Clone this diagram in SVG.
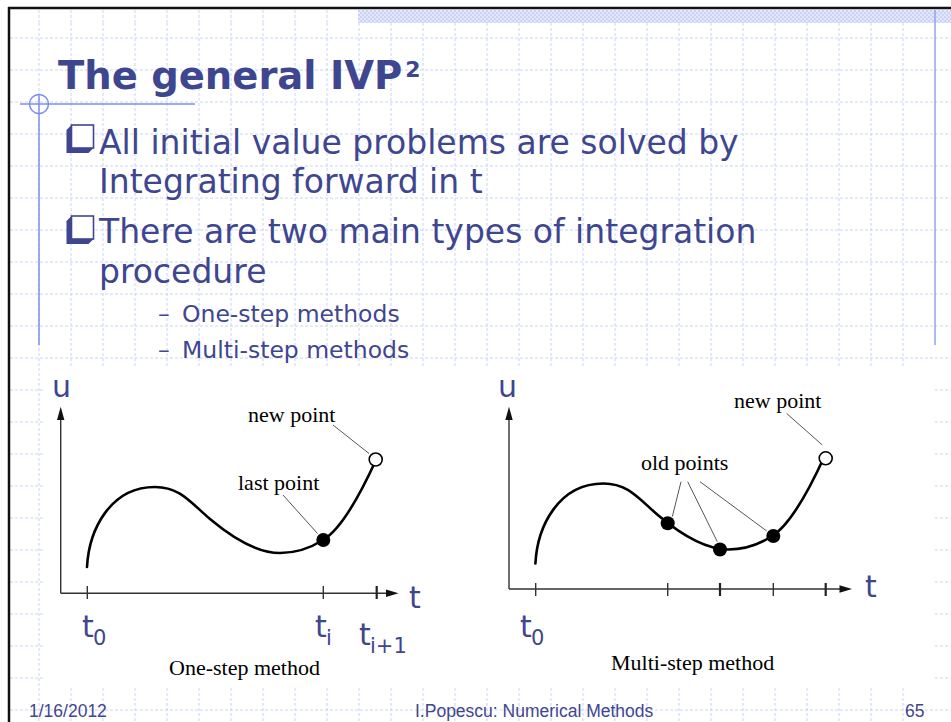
<svg xmlns="http://www.w3.org/2000/svg" width="951" height="722" viewBox="0 0 951 722">
  <defs>
    <style>
      .grid { stroke: #c9d2f7; stroke-width: 1; stroke-dasharray: 3 2; fill: none; }
      .deco { stroke: #7b8ff0; stroke-width: 1.5; fill: none; }
      .slide { font-family: "DejaVu Sans", Verdana, sans-serif; fill: #3f4690; }
      .title { font-size: 38.5px; font-weight: bold; }
      .body { font-size: 33px; }
      .sub { font-size: 23.5px; }
      .lbl { font-size: 30px; }
      .lsub { font-size: 21px; }
      .serif { font-family: "Liberation Serif", "Times New Roman", serif; font-size: 22px; fill: #000; }
      .axis { stroke: #333; stroke-width: 1.4; fill: none; }
      .tick { stroke: #333; stroke-width: 1.4; }
      .tickb { stroke: #222; stroke-width: 2.2; }
      .curve { stroke: #000; stroke-width: 2.6; fill: none; stroke-linecap: round; }
      .lead { stroke: #555; stroke-width: 1; fill: none; }
      .dot { fill: #000; }
      .open { fill: #fff; stroke: #000; stroke-width: 1.6; }
      .arrow { fill: #111; }
      .foot { font-family: "Liberation Sans", Arial, sans-serif; font-size: 17.5px; fill: #3f4690; }
      .bshadow { fill: #3f4690; }
      .bbox { fill: #fff; stroke: #3f4690; stroke-width: 1.6; }
    </style>
    <pattern id="hatch" width="4" height="4" patternUnits="userSpaceOnUse">
      <rect width="4" height="4" fill="#e3e8fc"/>
      <rect width="2" height="2" fill="#cad3f7"/>
      <rect x="2" y="2" width="2" height="2" fill="#cad3f7"/>
    </pattern>
    <path id="curve" d="M87,567 C89,530 110,487 155,487 C180,487 190,502 210,519 C235,540 258,553 280,553 C298,553 312,547 323,540 C340,530 360,495 376,460"/>
  </defs>

  <rect width="951" height="722" fill="#fff"/>

  <g id="background">
    <rect x="358" y="10" width="593" height="13" fill="url(#hatch)"/>
    <path class="grid" d="M39 23V722M71 23V722M103 23V722M135 23V722M167 23V722M199 23V722M231 23V722M263 23V722M295 23V722M327 23V722M359 23V722M391 23V722M423 23V722M455 23V722M487 23V722M519 23V722M551 23V722M583 23V722M615 23V722M647 23V722M679 23V722M711 23V722M743 23V722M775 23V722M807 23V722M839 23V722M871 23V722M903 23V722"/>
    <path class="grid" d="M39 10V23M71 10V23M103 10V23M135 10V23M167 10V23M199 10V23M231 10V23M263 10V23M295 10V23M327 10V23"/>
    <path class="grid" d="M10 38H951M10 70H951M10 102H951M10 134H951M10 166H951M10 198H951M10 230H951M10 262H951M10 294H951M10 326H951M10 358H951M10 390H951M10 422H951M10 454H951M10 486H951M10 518H951M10 550H951M10 582H951M10 614H951M10 646H951M10 678H951M10 710H951"/>
    <line x1="935" y1="10" x2="935" y2="345" stroke="#93a3f0" stroke-width="1.5"/>
    <line x1="9" y1="7" x2="9" y2="722" stroke="#111" stroke-width="2.5"/>
    <line x1="8" y1="8" x2="951" y2="8" stroke="#111" stroke-width="2.5"/>
    <circle class="deco" cx="39" cy="104" r="9.5"/>
    <line class="deco" x1="20" y1="104" x2="195" y2="104"/>
    <line class="deco" x1="39" y1="94" x2="39" y2="345"/>
  </g>

  <g id="title">
    <text class="slide title" x="58" y="89">The general IVP<tspan font-size="22" dx="3" dy="-12">2</tspan></text>
  </g>

  <g id="bullet1">
    <path class="bshadow" d="M71.5,125 L93.5,125 L93.5,148 L88.5,153 L66.5,153 L66.5,130 Z"/>
    <rect class="bbox" x="71.5" y="125" width="22" height="23"/>
    <text class="slide body" x="99" y="154">All initial value problems are solved by</text>
    <text class="slide body" x="99" y="193">Integrating forward in t</text>
  </g>

  <g id="bullet2">
    <path class="bshadow" d="M71.5,216 L93.5,216 L93.5,239 L88.5,244 L66.5,244 L66.5,221 Z"/>
    <rect class="bbox" x="71.5" y="216" width="22" height="23"/>
    <text class="slide body" x="99" y="243">There are two main types of integration</text>
    <text class="slide body" x="99" y="283">procedure</text>
  </g>

  <g id="subbullets">
    <text class="slide sub" x="158" y="322">–</text>
    <text class="slide sub" x="182" y="322">One-step methods</text>
    <text class="slide sub" x="158" y="358">–</text>
    <text class="slide sub" x="182" y="358">Multi-step methods</text>
  </g>

  <rect x="45" y="368" width="890" height="318" fill="#fff"/>

  <g id="one-step">
    <g id="one-step-axes">
      <path class="axis" d="M60.7,593.3 V416 M60.7,593.3 H390"/>
      <path class="arrow" d="M60.7,406.7 L57,420 L64.4,420 Z"/>
      <path class="arrow" d="M398.5,593.3 L386,589.5 L386,597.1 Z"/>
      <line class="tick" x1="87.3" y1="586" x2="87.3" y2="599"/>
      <line class="tick" x1="323.3" y1="586" x2="323.3" y2="599"/>
      <line class="tickb" x1="376.7" y1="586" x2="376.7" y2="599"/>
    </g>
    <use href="#curve" class="curve"/>
    <g id="one-step-connectors">
      <line class="lead" x1="333" y1="425" x2="369" y2="453.5"/>
      <line class="lead" x1="283" y1="495" x2="317.5" y2="533.5"/>
    </g>
    <g id="one-step-last"><circle class="dot" cx="323.3" cy="540" r="7"/></g>
    <g id="one-step-new"><circle class="open" cx="375.7" cy="459.5" r="6.5"/></g>
    <text class="serif" x="248" y="422">new point</text>
    <text class="serif" x="238" y="490">last point</text>
    <text class="serif" x="169" y="675">One-step method</text>
    <text class="slide lbl" x="52" y="397">u</text>
    <text class="slide lbl" x="409" y="608">t</text>
    <text class="slide lbl" x="82" y="637">t</text>
    <text class="slide lsub" x="93" y="645">0</text>
    <text class="slide lbl" x="315" y="637">t</text>
    <text class="slide lsub" x="326" y="645">i</text>
    <text class="slide lbl" x="359" y="645">t</text>
    <text class="slide lsub" x="370" y="653">i+1</text>
  </g>

  <g id="multi-step">
    <g id="multi-step-axes">
      <path class="axis" d="M509,589 V416 M509,589 H840"/>
      <path class="arrow" d="M509,406.7 L505.3,420 L512.7,420 Z"/>
      <path class="arrow" d="M852,589 L839.5,585.2 L839.5,592.8 Z"/>
      <line class="tick" x1="535.7" y1="583" x2="535.7" y2="596"/>
      <line class="tick" x1="667.7" y1="583" x2="667.7" y2="596"/>
      <line class="tickb" x1="720" y1="583" x2="720" y2="596"/>
      <line class="tick" x1="773.3" y1="583" x2="773.3" y2="596"/>
      <line class="tickb" x1="825.7" y1="583" x2="825.7" y2="596"/>
    </g>
    <use href="#curve" class="curve" transform="translate(448.4,-3.5)"/>
    <g id="multi-step-connectors">
      <line class="lead" x1="786.7" y1="413.5" x2="822.3" y2="445"/>
      <line class="lead" x1="681" y1="481.7" x2="672.3" y2="516.7"/>
      <line class="lead" x1="687.7" y1="481.7" x2="717.3" y2="541.7"/>
      <line class="lead" x1="700" y1="481.7" x2="766.7" y2="531"/>
    </g>
    <g id="old-point-1"><circle class="dot" cx="667.7" cy="523.3" r="7"/></g>
    <g id="old-point-2"><circle class="dot" cx="720" cy="549.5" r="7"/></g>
    <g id="old-point-3"><circle class="dot" cx="773.3" cy="536" r="7"/></g>
    <g id="multi-step-new"><circle class="open" cx="825.7" cy="458.3" r="6.5"/></g>
    <text class="serif" x="734" y="408">new point</text>
    <text class="serif" x="641" y="470">old points</text>
    <text class="serif" x="611" y="670">Multi-step method</text>
    <text class="slide lbl" x="498" y="397">u</text>
    <text class="slide lbl" x="865" y="597">t</text>
    <text class="slide lbl" x="520" y="637">t</text>
    <text class="slide lsub" x="531" y="645">0</text>
  </g>

  <g id="footer">
    <text class="foot" x="29" y="717">1/16/2012</text>
    <text class="foot" x="415" y="717">I.Popescu: Numerical Methods</text>
    <text class="foot" x="905" y="717">65</text>
  </g>
</svg>
